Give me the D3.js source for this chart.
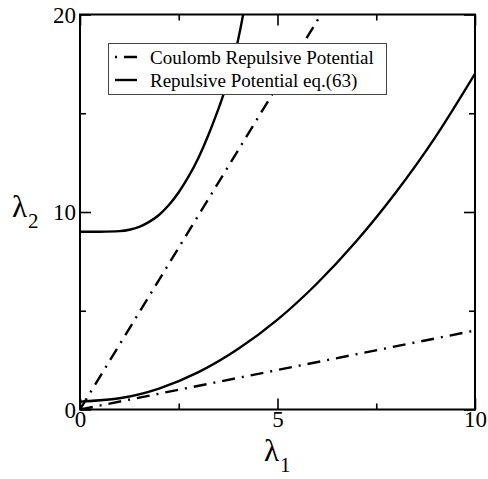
<!DOCTYPE html>
<html><head><meta charset="utf-8">
<script src="https://cdn.jsdelivr.net/npm/d3@7"></script>
<style>
html,body{margin:0;padding:0;background:#fff;}
svg{display:block;}
svg text{font-family:"Liberation Serif","Times New Roman",serif !important;}
</style></head>
<body>
<svg id="chart" width="488" height="479"></svg>
<script>
// ---- data ----
const xTicksMajor = [0, 5, 10];
const xTicksMinor = [2.5, 7.5];
const yTicksMajor = [0, 10, 20];
const yTicksMinor = [5, 15];
const legendLabels = ["Coulomb Repulsive Potential", "Repulsive Potential eq.(63)"];

// Coulomb repulsive potential (dash-dot), two branches
const coulombSteepX = [0, 6.1];
const coulombSteepY = [0, 20];
const coulombFlatX  = [0, 10];
const coulombFlatY  = [0, 4.0];

// Repulsive potential eq.(63) (solid), two branches
const upperX = [0, 0.5, 1.0, 1.25, 1.5, 1.75, 2.0, 2.25, 2.5, 2.75, 3.0, 3.25, 3.5, 3.75, 4.0, 4.13];
const upperY = [9.0, 9.0, 9.03, 9.1, 9.25, 9.5, 9.85, 10.35, 11.0, 11.8, 12.75, 13.9, 15.2, 16.7, 18.7, 20.0];
const lowerX = [0, 1, 2, 3, 4, 5, 6, 7, 8, 9, 10];
const lowerY = [0.4, 0.57, 1.06, 1.89, 3.06, 4.55, 6.38, 8.53, 11.0, 13.8, 17.0];

// ---- layout ----
const svg = d3.select("#chart");
const L = 80, R = 475, T = 14.5, B = 409.5;
const x = d3.scaleLinear().domain([0, 10]).range([L, R]);
const y = d3.scaleLinear().domain([0, 20]).range([B, T]);

svg.append("defs").append("clipPath").attr("id", "clip")
  .append("rect").attr("x", L).attr("y", T).attr("width", R - L).attr("height", B - T);

const plot = svg.append("g").attr("clip-path", "url(#clip)");
const line = d3.line().x(d => x(d[0])).y(d => y(d[1])).curve(d3.curveNatural);
const zip = (a, b) => a.map((v, i) => [v, b[i]]);
const dashDot = "13,7,2,7";

[[coulombSteepX, coulombSteepY], [coulombFlatX, coulombFlatY]].forEach(([xs, ys]) => {
  plot.append("path").datum(zip(xs, ys)).attr("d", d3.line().x(d => x(d[0])).y(d => y(d[1])))
    .attr("fill", "none").attr("stroke", "#000").attr("stroke-width", 2.4)
    .attr("stroke-dasharray", dashDot);
});
[[upperX, upperY], [lowerX, lowerY]].forEach(([xs, ys]) => {
  plot.append("path").datum(zip(xs, ys)).attr("d", line)
    .attr("fill", "none").attr("stroke", "#000").attr("stroke-width", 2.4);
});

// ---- axes (ticks inward, mirrored) ----
const tickFont = 23;
function axes() {
  const major = 11, minor = 6;
  const mk = (axis, tr, vals, size, fmt) => {
    const g = svg.append("g").attr("transform", tr)
      .call(axis.tickValues(vals).tickSizeInner(-size).tickSizeOuter(0).tickFormat(fmt));
    g.select(".domain").remove();
    g.attr("font-family", null).attr("font-size", null);
    g.selectAll("line").attr("stroke", "#000").attr("stroke-width", 1.6);
    g.selectAll("text").attr("font-size", tickFont).attr("fill", "#000");
    return g;
  };
  const gB = mk(d3.axisBottom(x), `translate(0,${B})`, xTicksMajor, major, d3.format("d"));
  mk(d3.axisBottom(x), `translate(0,${B})`, xTicksMinor, minor, () => "");
  mk(d3.axisTop(x), `translate(0,${T})`, xTicksMajor, major, () => "");
  mk(d3.axisTop(x), `translate(0,${T})`, xTicksMinor, minor, () => "");
  const gL = mk(d3.axisLeft(y), `translate(${L},0)`, yTicksMajor, major, d3.format("d"));
  mk(d3.axisLeft(y), `translate(${L},0)`, yTicksMinor, minor, () => "");
  mk(d3.axisRight(y), `translate(${R},0)`, yTicksMajor, major, () => "");
  mk(d3.axisRight(y), `translate(${R},0)`, yTicksMinor, minor, () => "");
  gB.selectAll("text").attr("y", 1).attr("dy", "0.71em");
  gL.selectAll("text").attr("x", -4).attr("dy", "0.34em");
}
axes();

svg.append("rect").attr("x", L).attr("y", T).attr("width", R - L).attr("height", B - T)
  .attr("fill", "none").attr("stroke", "#000").attr("stroke-width", 2);

// ---- axis titles ----
const t1 = svg.append("text").attr("x", 264).attr("y", 461).attr("font-size", 31).attr("fill", "#000");
t1.append("tspan").text("λ");
t1.append("tspan").attr("font-size", 21).attr("dy", 11).attr("dx", 1).text("1");
const t2 = svg.append("text").attr("x", 12).attr("y", 217).attr("font-size", 31).attr("fill", "#000");
t2.append("tspan").text("λ");
t2.append("tspan").attr("font-size", 21).attr("dy", 11).attr("dx", 1).text("2");

// ---- legend ----
const lg = svg.append("g");
lg.append("rect").attr("x", 108.5).attr("y", 43.5).attr("width", 278).attr("height", 51)
  .attr("fill", "#fff").attr("stroke", "#444").attr("stroke-width", 1);
const rowsY = [57, 80];
legendLabels.forEach((lab, i) => {
  lg.append("line").attr("x1", 115).attr("x2", 137).attr("y1", rowsY[i]).attr("y2", rowsY[i])
    .attr("stroke", "#000").attr("stroke-width", 2.4)
    .attr("stroke-dasharray", i === 0 ? dashDot : null)
    .attr("stroke-dashoffset", i === 0 ? 20 : null);
  lg.append("text").attr("x", 150).attr("y", rowsY[i]).attr("dy", "0.35em")
    .attr("font-size", 19).attr("fill", "#000").text(lab);
});
</script>
</body></html>
